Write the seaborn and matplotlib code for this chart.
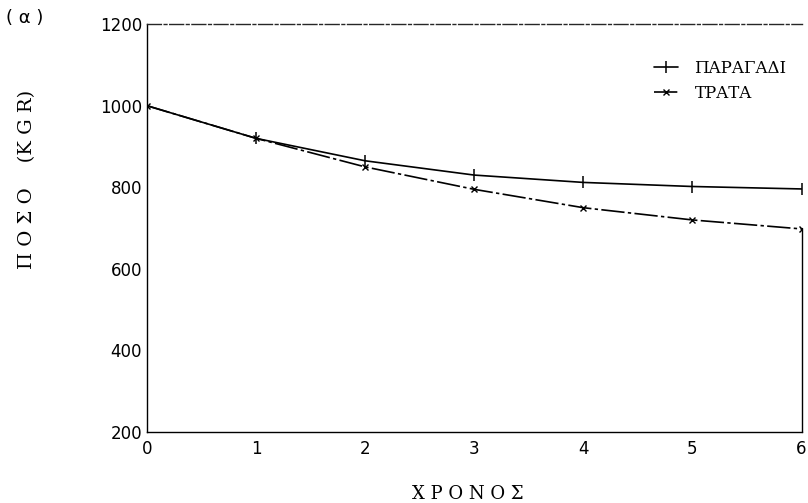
import pandas as pd
import numpy as np
import matplotlib
matplotlib.use('Agg')
import matplotlib.pyplot as plt
import seaborn as sns

years = [0, 1, 2, 3, 4, 5, 6]
paragadi = [1000, 920, 865, 830, 812, 802, 796]
trata = [1000, 920, 850, 795, 750, 720, 698]
series_names = ['ΠΑΡΑΓΑΔΙ', 'ΤΡΑΤΑ']
x_ticks = [0, 1, 2, 3, 4, 5, 6]
y_ticks = [200, 400, 600, 800, 1000, 1200]

df = pd.DataFrame({
    'year': years * 2,
    'value': paragadi + trata,
    'series': [series_names[0]] * len(years) + [series_names[1]] * len(years),
})

sns.set_style('white')
plt.rcParams['font.family'] = ['DejaVu Sans']
plt.rcParams['text.color'] = 'black'
plt.rcParams['xtick.color'] = 'black'
plt.rcParams['ytick.color'] = 'black'
plt.rcParams['axes.labelcolor'] = 'black'

fig = plt.figure(figsize=(8.08, 5.03), dpi=100)
ax = fig.add_axes([0.182, 0.141, 0.81, 0.811])

sns.lineplot(data=df[df['series'] == series_names[0]], x='year', y='value',
             color='black', linewidth=1.2, marker='|', markersize=8,
             markeredgewidth=1.1, markeredgecolor='black',
             label=series_names[0], ax=ax)
sns.lineplot(data=df[df['series'] == series_names[1]], x='year', y='value',
             color='black', linewidth=1.2, marker='x', markersize=4,
             markeredgewidth=1.0, markeredgecolor='black',
             label=series_names[1], ax=ax)
ax.lines[1].set_linestyle((0, (14, 2, 2, 2)))

ax.set_xlim(0, 6)
ax.set_ylim(200, 1200)
ax.set_xticks(x_ticks)
ax.set_yticks(y_ticks)
ax.tick_params(axis='both', direction='in', length=4, labelsize=12, width=0.8)
ax.tick_params(axis='x', pad=6)

for side in ['left', 'bottom']:
    ax.spines[side].set_color('black')
    ax.spines[side].set_linewidth(1.0)
ax.spines['top'].set_linestyle((0, (10, 2, 2, 2)))
ax.spines['top'].set_linewidth(1.0)
ax.spines['right'].set_visible(False)
ax.plot([6, 6], [200, 700], color='black', linewidth=1.0, clip_on=False)

ax.set_xlabel('Χ Ρ Ο Ν Ο Σ', fontsize=13, family='DejaVu Serif')
ax.set_ylabel('Π Ο Σ Ο    (K G R)', fontsize=14, family='DejaVu Serif')
ax.yaxis.set_label_coords(-0.17, 0.62)
ax.xaxis.set_label_coords(0.49, -0.13)

fig.text(0.008, 0.955, '( α )', fontsize=13, family='DejaVu Sans')

leg = ax.legend(loc='upper right', bbox_to_anchor=(1.0, 0.95), frameon=False,
                handlelength=1.4, handletextpad=1.0,
                prop={'family': 'DejaVu Serif', 'size': 12})

plt.savefig('out.png', dpi=100)
